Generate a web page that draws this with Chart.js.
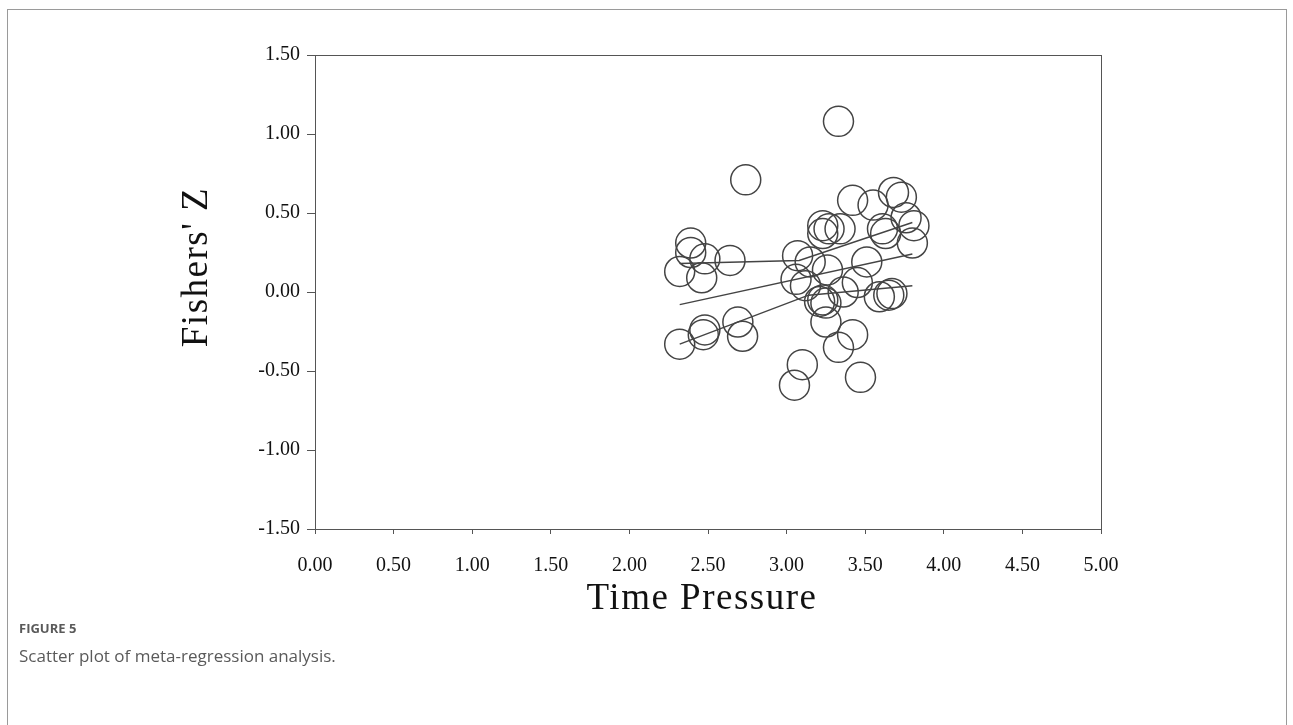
<!DOCTYPE html>
<html>
<head>
<meta charset="utf-8">
<title>Scatter plot of meta-regression analysis</title>
<script src="https://cdn.jsdelivr.net/npm/chart.js@4.4.1/dist/chart.umd.min.js"></script>
<style>
  html, body { margin: 0; padding: 0; background: #fff; }
  body { width: 1293px; height: 725px; position: relative; overflow: hidden; }
  #frame {
    position: absolute; left: 7px; top: 9px; width: 1280px; height: 760px;
    border: 1px solid #9a9a9a; box-sizing: border-box;
  }
  #chart { position: absolute; left: 0; top: 0; }
  .fig-label {
    position: absolute; left: 19px; top: 619px;
    font: 700 13px "Open Sans", sans-serif; color: #5a5a5a;
  }
  .fig-caption {
    position: absolute; left: 19px; top: 644px;
    font: 400 17px "Open Sans", sans-serif; color: #5a5a5a;
  }
</style>
</head>
<body>
<div id="frame"></div>
<canvas id="chart" width="1293" height="620"></canvas>
<div class="fig-label">FIGURE 5</div>
<div class="fig-caption">Scatter plot of meta-regression analysis.</div>

<script>
// Studies: time pressure (x) vs Fisher's Z (y)
const timePressure = [
  3.33, 2.74, 2.39, 2.39, 2.48, 2.64, 2.32, 2.46,
  2.32, 2.48, 2.47, 2.69, 2.72,
  3.42, 3.55, 3.68, 3.73, 3.23, 3.27, 3.34, 3.23, 3.61, 3.63, 3.76, 3.81, 3.80,
  3.07, 3.15, 3.26, 3.51, 3.06, 3.12, 3.36, 3.45,
  3.21, 3.23, 3.25, 3.59, 3.65, 3.67,
  3.25, 3.42, 3.33, 3.10, 3.05, 3.47
];
const fishersZ = [
  1.08, 0.71, 0.31, 0.25, 0.21, 0.20, 0.13, 0.09,
  -0.33, -0.24, -0.27, -0.19, -0.28,
  0.58, 0.55, 0.63, 0.60, 0.42, 0.40, 0.40, 0.37, 0.40, 0.37, 0.47, 0.42, 0.31,
  0.23, 0.19, 0.14, 0.19, 0.08, 0.04, 0.00, 0.06,
  -0.06, -0.05, -0.07, -0.03, -0.02, -0.01,
  -0.19, -0.27, -0.35, -0.46, -0.59, -0.54
];

// Regression line and its confidence limits
const regX = [2.32, 3.80];
const regY = [-0.08, 0.24];
const upperX = [2.32, 3.08, 3.80];
const upperY = [0.18, 0.20, 0.44];
const lowerX = [2.32, 3.14, 3.80];
const lowerY = [-0.33, -0.02, 0.04];

const xTicks = [0, 0.5, 1, 1.5, 2, 2.5, 3, 3.5, 4, 4.5, 5];
const yTicks = [-1.5, -1, -0.5, 0, 0.5, 1, 1.5];

const xTitle = 'Time Pressure';
const yTitle = "Fishers' Z";

const toPoints = (xs, ys) => xs.map((x, i) => ({ x: x, y: ys[i] }));

const lineStyle = {
  type: 'line',
  showLine: true,
  borderColor: '#444',
  borderWidth: 1.5,
  pointRadius: 0,
  fill: false,
  tension: 0
};

// box round the plot area, axis titles
const framePlugin = {
  id: 'framePlugin',
  afterDraw(chart) {
    const { ctx, chartArea: a } = chart;
    ctx.save();
    ctx.strokeStyle = '#555';
    ctx.lineWidth = 1;
    ctx.strokeRect(a.left + 0.5, a.top + 0.5, a.right - a.left, a.bottom - a.top);

    ctx.fillStyle = '#111';
    ctx.font = '37px "Liberation Serif"';
    ctx.letterSpacing = '1.5px';
    ctx.textAlign = 'center';
    ctx.textBaseline = 'middle';
    ctx.fillText(xTitle, (a.left + a.right) / 2 - 6, 599);

    ctx.translate(197, 267);
    ctx.rotate(-Math.PI / 2);
    ctx.fillText(yTitle, 0, 0);
    ctx.restore();
  }
};

new Chart(document.getElementById('chart'), {
  type: 'scatter',
  data: {
    datasets: [
      {
        label: 'Studies',
        data: toPoints(timePressure, fishersZ),
        pointStyle: 'circle',
        pointRadius: 15,
        pointHoverRadius: 15,
        backgroundColor: 'rgba(0,0,0,0)',
        borderColor: '#444',
        borderWidth: 1.5
      },
      Object.assign({ label: 'Regression', data: toPoints(regX, regY) }, lineStyle),
      Object.assign({ label: 'Upper limit', data: toPoints(upperX, upperY) }, lineStyle),
      Object.assign({ label: 'Lower limit', data: toPoints(lowerX, lowerY) }, lineStyle)
    ]
  },
  options: {
    responsive: false,
    animation: false,
    layout: { padding: { left: 0, top: 55, right: 192, bottom: 0 } },
    plugins: {
      legend: { display: false },
      tooltip: { enabled: false }
    },
    scales: {
      x: {
        type: 'linear',
        min: 0,
        max: 5,
        afterFit: s => { s.height = 91; },
        afterBuildTicks: s => { s.ticks = xTicks.map(v => ({ value: v })); },
        grid: { drawOnChartArea: false, drawTicks: true, tickLength: 5, color: '#555' },
        border: { display: true, color: '#555', width: 1 },
        ticks: {
          color: '#111',
          padding: 20,
          maxRotation: 0,
          font: { family: '"Liberation Serif"', size: 20 },
          callback: v => v.toFixed(2)
        }
      },
      y: {
        type: 'linear',
        min: -1.5,
        max: 1.5,
        afterFit: s => { s.width = 315; },
        afterBuildTicks: s => { s.ticks = yTicks.map(v => ({ value: v })); },
        grid: { drawOnChartArea: false, drawTicks: true, tickLength: 8, color: '#555' },
        border: { display: true, color: '#555', width: 1 },
        ticks: {
          color: '#111',
          padding: 7,
          font: { family: '"Liberation Serif"', size: 20 },
          callback: v => v.toFixed(2)
        }
      }
    }
  },
  plugins: [framePlugin]
});
</script>
</body>
</html>
